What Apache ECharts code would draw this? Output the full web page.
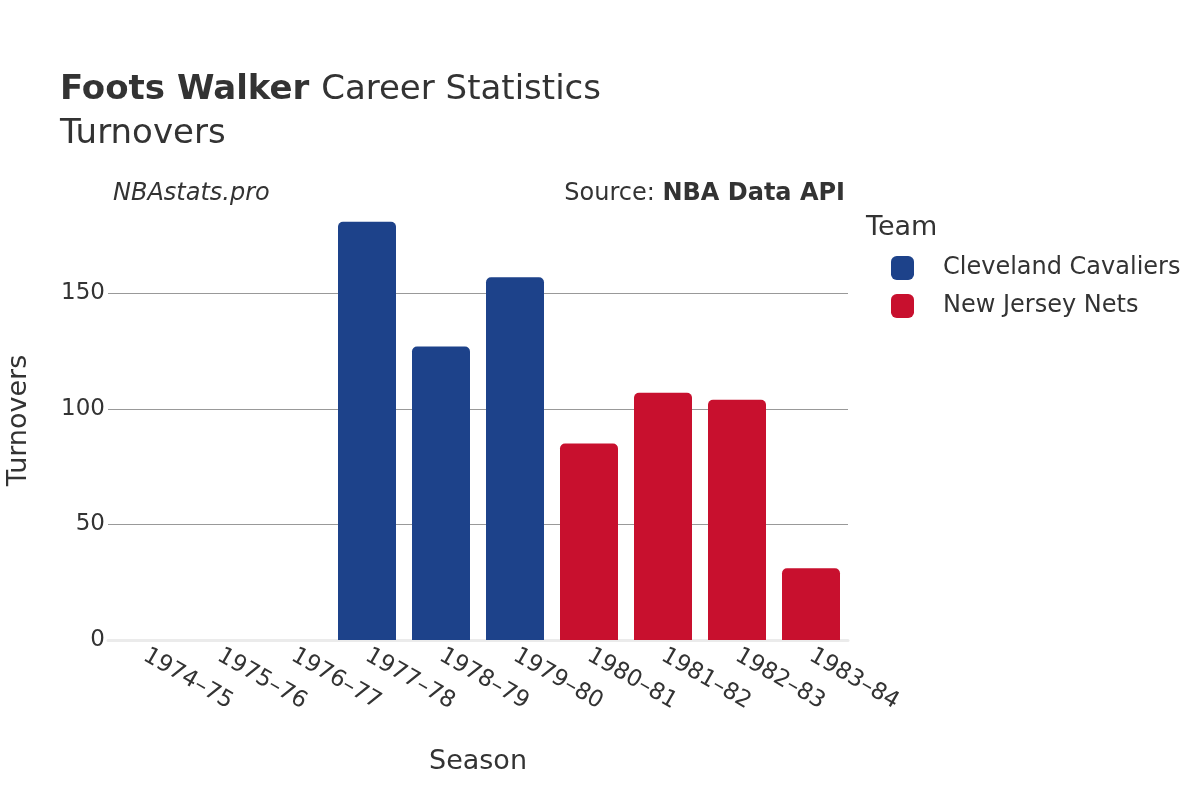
<!DOCTYPE html>
<html>
<head>
<meta charset="utf-8">
<script src="https://cdn.jsdelivr.net/npm/echarts@6/dist/echarts.min.js"></script>
<style>
  html, body { margin: 0; padding: 0; background: #fff; }
  #chart { width: 1200px; height: 800px; }
</style>
</head>
<body>
<div id="chart"></div>
<script>
const seasons = ['1974–75', '1975–76', '1976–77', '1977–78', '1978–79', '1979–80', '1980–81', '1981–82', '1982–83', '1983–84'];
const cavaliers = [null, null, null, 181, 127, 157, null, null, null, null];
const nets = [null, null, null, null, null, null, 85, 107, 104, 31];
const yTicks = [0, 50, 100, 150];

const font = 'DejaVu Sans, sans-serif';
const chart = echarts.init(document.getElementById('chart'));

chart.setOption({
  animation: false,
  textStyle: { fontFamily: font },
  title: [
    {
      left: 60, top: 68, padding: 0,
      text: '{b|Foots Walker }{r|Career Statistics}\n{r|Turnovers}',
      textStyle: {
        fontWeight: 'normal',
        rich: {
          b: { fontFamily: font, fontSize: 34, fontWeight: 'bold', color: '#333', lineHeight: 44 },
          r: { fontFamily: font, fontSize: 34, fontWeight: 'normal', color: '#333', lineHeight: 44 }
        }
      }
    },
    { left: 113, top: 182, padding: 0, text: 'NBAstats.pro', textStyle: { fontFamily: font, fontSize: 24, fontStyle: 'italic', fontWeight: 'normal', color: '#333' } },
    {
      right: 355, top: 182, padding: 0,
      text: '{n|Source: }{b|NBA Data API}',
      textStyle: {
        fontWeight: 'normal',
        rich: {
          n: { fontFamily: font, fontSize: 24, fontWeight: 'normal', color: '#333' },
          b: { fontFamily: font, fontSize: 24, fontWeight: 'bold', color: '#333' }
        }
      }
    },
    { left: 866, top: 214, padding: 0, text: 'Team', textStyle: { fontFamily: font, fontSize: 27, fontWeight: 'normal', color: '#333' } }
  ],
  legend: {
    orient: 'vertical',
    left: 891, top: 256, padding: 0,
    icon: 'roundRect',
    itemWidth: 23, itemHeight: 24, itemGap: 14,
    textStyle: { fontFamily: font, fontSize: 24, color: '#333', padding: [0, 0, 0, 24] },
    data: ['Cleveland Cavaliers', 'New Jersey Nets']
  },
  grid: { left: 108, right: 352, top: 201, bottom: 160, outerBoundsMode: 'none' },
  xAxis: {
    type: 'category',
    data: seasons,
    name: 'Season',
    nameLocation: 'middle',
    nameGap: 108,
    nameTextStyle: { fontFamily: font, fontSize: 27, color: '#333' },
    axisLine: { show: true, lineStyle: { color: '#ebebeb', width: 3 } },
    axisTick: { show: false },
    axisLabel: { rotate: -30, fontFamily: font, fontSize: 23, color: '#333', margin: 14, interval: 0 }
  },
  yAxis: {
    type: 'value',
    min: 0, max: 190, interval: 50,
    name: 'Turnovers',
    nameLocation: 'middle',
    nameGap: 76,
    nameTextStyle: { fontFamily: font, fontSize: 27, color: '#333' },
    axisLine: { show: false },
    axisTick: { show: false },
    axisLabel: {
      fontFamily: font, fontSize: 23, color: '#333', margin: 3,
      showMaxLabel: false,
      formatter: v => (yTicks.includes(v) ? String(v) : '')
    },
    splitLine: { show: true, showMinLine: false, showMaxLine: false, lineStyle: { color: '#999', width: 1 } }
  },
  series: [
    {
      name: 'Cleveland Cavaliers', type: 'bar', stack: 'team', data: cavaliers,
      barWidth: 58,
      itemStyle: { color: '#1d428a', borderRadius: [5, 5, 0, 0] }
    },
    {
      name: 'New Jersey Nets', type: 'bar', stack: 'team', data: nets,
      barWidth: 58,
      itemStyle: { color: '#c8102e', borderRadius: [5, 5, 0, 0] }
    }
  ]
});
</script>
</body>
</html>
